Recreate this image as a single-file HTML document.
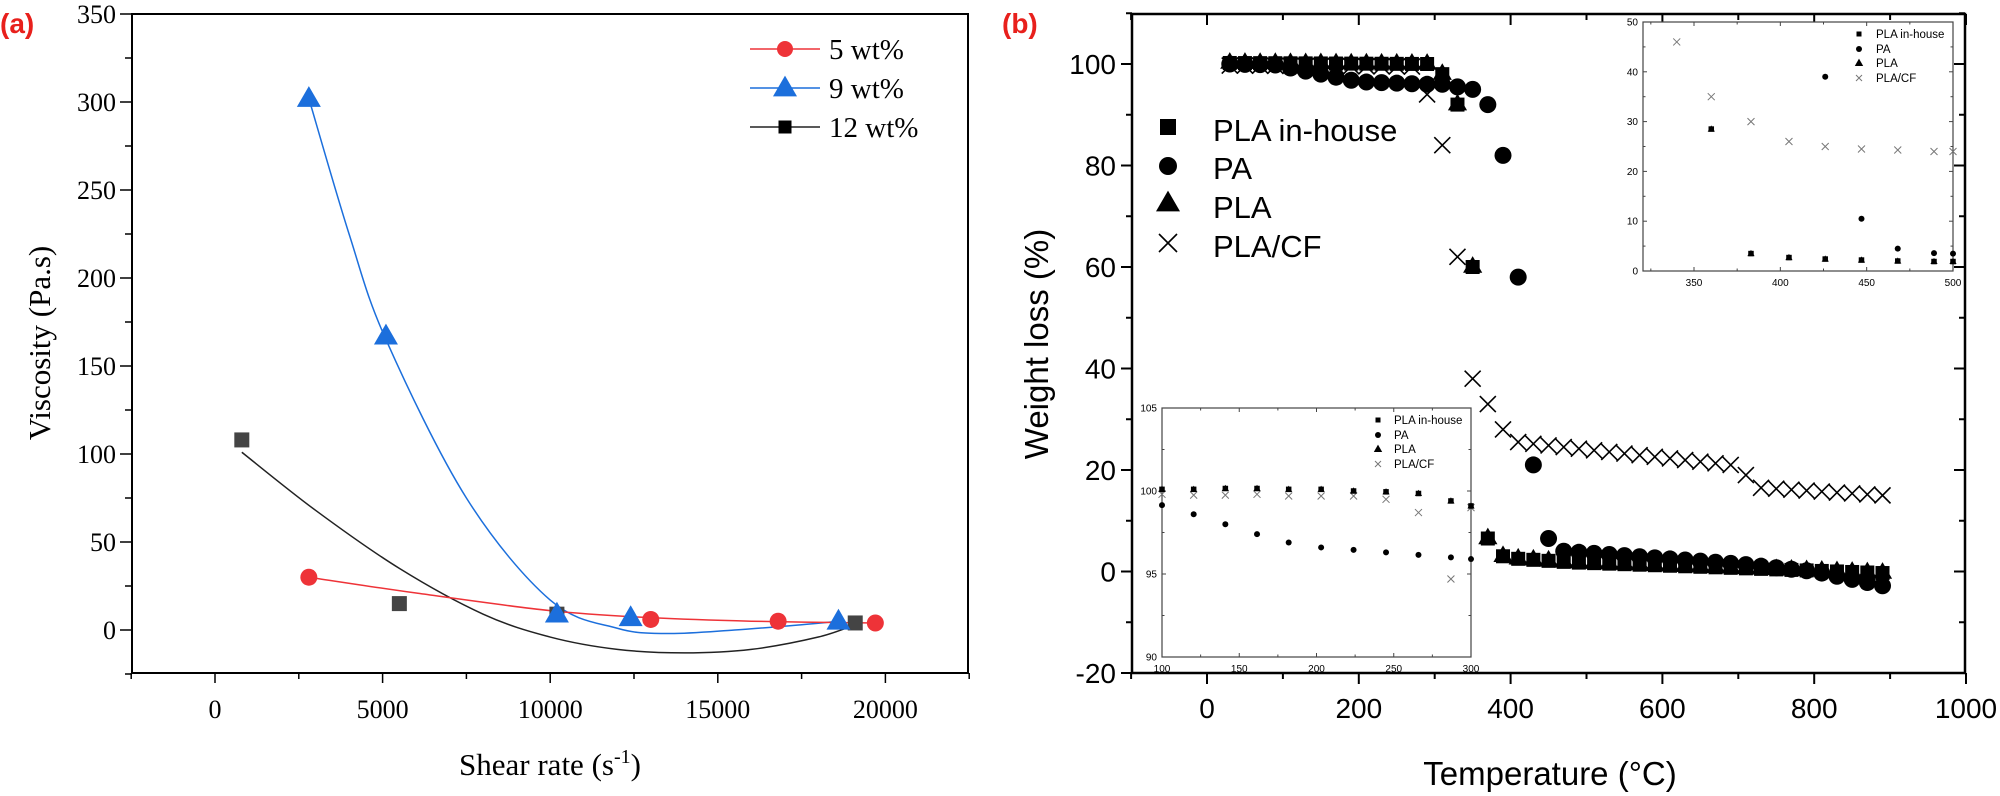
<!DOCTYPE html>
<html><head><meta charset="utf-8">
<style>
html,body{margin:0;padding:0;background:#fff;}
svg{display:block;}
</style></head>
<body>
<svg id="s" xmlns="http://www.w3.org/2000/svg" width="2000" height="796" viewBox="0 0 2000 796"></svg>
<script>
const S=document.getElementById('s');
let h='';
function add(x){h+=x;}
// ---------- Chart (a) ----------
const aL=132,aR=968,aT=14,aB=673;
const ax=v=>215+(v)*(167.6/5000);
const ay=v=>630-(v)*(616/350);
add(`<rect x="${aL}" y="${aT}" width="${aR-aL}" height="${aB-aT}" fill="none" stroke="#000" stroke-width="2"/>`);
for(let v=-25;v<=350;v+=25){const y=ay(v);const maj=v%50===0;add(`<line x1="${aL-(maj?12:7)}" y1="${y}" x2="${aL}" y2="${y}" stroke="#000" stroke-width="1.5"/>`);
 if(maj&&v>=0)add(`<text x="${aL-16}" y="${y+9}" font-family="Liberation Serif" font-size="26" text-anchor="end">${v}</text>`);}
for(let v=-2500;v<=22500;v+=2500){const x=ax(v);const maj=v%5000===0;add(`<line x1="${x}" y1="${aB}" x2="${x}" y2="${aB+(maj?10:6)}" stroke="#000" stroke-width="1.5"/>`);
 if(maj&&v>=0&&v<=20000)add(`<text x="${x}" y="${aB+45}" font-family="Liberation Serif" font-size="26" text-anchor="middle">${v}</text>`);}
add(`<text transform="translate(50,343) rotate(-90)" font-family="Liberation Serif" font-size="31" text-anchor="middle">Viscosity (Pa.s)</text>`);
add(`<text x="550" y="775" font-family="Liberation Serif" font-size="31" text-anchor="middle">Shear rate (s<tspan dy="-12" font-size="20">-1</tspan><tspan dy="12">)</tspan></text>`);
add(`<text x="0" y="33" font-family="Liberation Sans" font-weight="bold" font-size="28" fill="#e8201c">(a)</text>`);
function spline(pts){let d=`M${pts[0][0]},${pts[0][1]}`;for(let i=0;i<pts.length-1;i++){const p0=pts[Math.max(i-1,0)],p1=pts[i],p2=pts[i+1],p3=pts[Math.min(i+2,pts.length-1)];
 d+=` C${p1[0]+(p2[0]-p0[0])/6},${p1[1]+(p2[1]-p0[1])/6} ${p2[0]-(p3[0]-p1[0])/6},${p2[1]-(p3[1]-p1[1])/6} ${p2[0]},${p2[1]}`;}return d;}
const P=a=>a.map(p=>[ax(p[0]),ay(p[1])]);
const RED='#ee3338',BLUE='#1c6fdc',GR='#444';
add(`<path d="${spline(P([[2800,302],[4000,225],[5100,165],[7500,75],[10000,17],[12000,1],[13500,-2],[15500,0],[17500,3],[18600,5]]))}" fill="none" stroke="${BLUE}" stroke-width="1.5"/>`);
add(`<path d="${spline(P([[800,101],[3000,68],[5500,35],[8000,9],[10000,-4],[12000,-11],[14000,-13],[16000,-11],[18000,-4],[19100,3]]))}" fill="none" stroke="#222" stroke-width="1.5"/>`);
add(`<path d="${spline(P([[2800,30],[6000,21],[10000,11],[13000,7],[16000,5],[19700,4]]))}" fill="none" stroke="${RED}" stroke-width="1.5"/>`);
function tri(x,y,s,c){return `<polygon points="${x},${y-s*0.62} ${x-s*0.6},${y+s*0.42} ${x+s*0.6},${y+s*0.42}" fill="${c}"/>`;}
function sq(x,y,s,c){return `<rect x="${x-s/2}" y="${y-s/2}" width="${s}" height="${s}" fill="${c}"/>`;}
function ci(x,y,r,c){return `<circle cx="${x}" cy="${y}" r="${r}" fill="${c}"/>`;}
function cr(x,y,s,c,w){return `<path d="M${x-s/2},${y-s/2}L${x+s/2},${y+s/2}M${x+s/2},${y-s/2}L${x-s/2},${y+s/2}" stroke="${c}" stroke-width="${w}" fill="none"/>`;}
[[800,108],[5500,15],[10200,9],[19100,4]].forEach(p=>add(sq(ax(p[0]),ay(p[1]),15,GR)));
[[2800,302],[5100,167],[10200,9],[12400,7],[18600,5]].forEach(p=>add(tri(ax(p[0]),ay(p[1]),20,BLUE)));
[[2800,30],[13000,6],[16800,5],[19700,4]].forEach(p=>add(ci(ax(p[0]),ay(p[1]),8.5,RED)));
// legend a
[[49,RED,'5 wt%'],[88,BLUE,'9 wt%'],[127,'#222','12 wt%']].forEach((r,i)=>{
 add(`<line x1="750" y1="${r[0]}" x2="820" y2="${r[0]}" stroke="${r[1]}" stroke-width="1.5"/>`);
 if(i==0)add(ci(785,r[0],8,RED));if(i==1)add(tri(785,r[0],20,BLUE));if(i==2)add(sq(785,r[0],13,'#000'));
 add(`<text x="829" y="${r[0]+10}" font-family="Liberation Serif" font-size="29">${r[2]}</text>`);});
// ---------- Chart (b) ----------
const bL=1132,bR=1965,bT=14,bB=673;
const bx=v=>1207+v*0.759;
const by=v=>64-(v-100)*5.075;
add(`<rect x="${bL}" y="${bT}" width="${bR-bL}" height="${bB-bT}" fill="none" stroke="#000" stroke-width="2.5"/>`);
for(let v=-20;v<=110;v+=10){const y=by(v);const maj=v%20===0;const l=maj?11:6;
 add(`<line x1="${bL-l}" y1="${y}" x2="${bL}" y2="${y}" stroke="#000" stroke-width="2"/><line x1="${bR-l}" y1="${y}" x2="${bR}" y2="${y}" stroke="#000" stroke-width="2"/>`);
 if(maj&&v<=100)add(`<text x="${bL-16}" y="${y+10}" font-family="Liberation Sans" font-size="28" text-anchor="end">${v}</text>`);}
for(let v=-100;v<=1000;v+=100){const x=bx(v);const maj=v%200===0;const l=maj?11:6;
 add(`<line x1="${x}" y1="${bB}" x2="${x}" y2="${bB+l}" stroke="#000" stroke-width="2"/><line x1="${x}" y1="${bT}" x2="${x}" y2="${bT+l}" stroke="#000" stroke-width="2"/>`);
 if(maj&&v>=0)add(`<text x="${x}" y="${bB+45}" font-family="Liberation Sans" font-size="28" text-anchor="middle">${v}</text>`);}
add(`<text transform="translate(1048,344) rotate(-90)" font-family="Liberation Sans" font-size="33" text-anchor="middle">Weight loss (%)</text>`);
add(`<text x="1550" y="785" font-family="Liberation Sans" font-size="33" text-anchor="middle">Temperature (°C)</text>`);
add(`<text x="1002" y="33" font-family="Liberation Sans" font-weight="bold" font-size="28" fill="#e8201c">(b)</text>`);
// data b
function interp(pts,t){for(let i=0;i<pts.length-1;i++){if(t<=pts[i+1][0]){const f=(t-pts[i][0])/(pts[i+1][0]-pts[i][0]);return pts[i][1]+f*(pts[i+1][1]-pts[i][1]);}}return pts[pts.length-1][1];}
const Ts=[];for(let t=30;t<=890;t+=20)Ts.push(t);
const pla=[[30,100.2],[290,100],[310,98],[330,92],[350,60],[370,6.5],[390,3],[410,2.5],[480,1.8],[890,-0.3]];
const pa=[[30,100],[90,99.8],[200,96.5],[290,96],[310,96],[330,95.5],[350,95],[370,92],[390,82],[410,58],[430,21],[450,6.5],[470,4],[700,1.5],[800,0],[890,-2.8]];
const cf=[[30,99.7],[270,99.5],[290,94],[310,84],[330,62],[350,38],[370,33],[390,28],[410,25.5],[440,25],[690,21],[710,19],[730,16.5],[890,15]];
Ts.forEach(t=>{add(sq(bx(t),by(interp(pla,t)),14,'#000'));});
Ts.forEach(t=>{add(tri(bx(t),by(interp(pla,t))-1,16,'#000'));});
Ts.forEach(t=>{add(ci(bx(t),by(interp(pa,t)),8.5,'#000'));});
Ts.forEach(t=>{add(cr(bx(t),by(interp(cf,t)),16,'#000',1.6));});
// legend b
add(sq(1168,127,16,'#000'));add(ci(1168,166,9,'#000'));add(tri(1168,203,20,'#000'));add(cr(1168,243,18,'#000',1.6));
[[130,'PLA in-house'],[168,'PA'],[207,'PLA'],[246,'PLA/CF']].forEach(r=>add(`<text x="1213" y="${r[0]+11}" font-family="Liberation Sans" font-size="31">${r[1]}</text>`));
// ---------- Inset 1 ----------
{const L=1643,R=1953,T=22,B=271;const X=v=>1694+(v-350)*(259/150);const Y=v=>271-v*4.98;
 add(`<rect x="${L}" y="${T}" width="${R-L}" height="${B-T}" fill="#fff" stroke="#444" stroke-width="1.2"/>`);
 for(let v=0;v<=50;v+=5){const y=Y(v);const m=v%10===0;add(`<line x1="${L}" y1="${y}" x2="${L+(m?4:2.5)}" y2="${y}" stroke="#444"/><line x1="${R}" y1="${y}" x2="${R-(m?4:2.5)}" y2="${y}" stroke="#444"/>`);
  if(m)add(`<text x="${L-5}" y="${y+3.5}" font-family="Liberation Sans" font-size="10" text-anchor="end">${v}</text>`);}
 for(let v=325;v<=500;v+=25){const x=X(v);const m=v%50===0;add(`<line x1="${x}" y1="${B}" x2="${x}" y2="${B-(m?4:2.5)}" stroke="#444"/><line x1="${x}" y1="${T}" x2="${x}" y2="${T+(m?4:2.5)}" stroke="#444"/>`);
  if(m)add(`<text x="${x}" y="${B+15}" font-family="Liberation Sans" font-size="10" text-anchor="middle">${v}</text>`);}
 [[340,46],[360,35],[383,30],[405,26],[426,25],[447,24.5],[468,24.3],[489,24],[500,24]].forEach(p=>add(cr(X(p[0]),Y(p[1]),7,'#777',1)));
 [[426,39],[447,10.5],[468,4.5],[489,3.6],[500,3.5]].forEach(p=>add(ci(X(p[0]),Y(p[1]),3,'#000')));
 [[360,28.5],[383,3.5],[405,2.7],[426,2.4],[447,2.2],[468,2],[489,1.9],[500,1.9]].forEach(p=>{add(sq(X(p[0]),Y(p[1]),5.5,'#000'));add(tri(X(p[0]),Y(p[1]),6,'#000'));});
 add(sq(1859,34,5,'#000'));add(ci(1859,49,3,'#000'));add(tri(1859,63,7,'#000'));add(cr(1859,78,6,'#777',1));
 [[34,'PLA in-house'],[49,'PA'],[63,'PLA'],[78,'PLA/CF']].forEach(r=>add(`<text x="1876" y="${r[0]+4}" font-family="Liberation Sans" font-size="11.5">${r[1]}</text>`));}
// ---------- Inset 2 ----------
{const L=1162,R=1471,T=408,B=657;const X=v=>L+(v-100)*(309/200);const Y=v=>657-(v-90)*(249/15);
 add(`<rect x="${L}" y="${T}" width="${R-L}" height="${B-T}" fill="#fff" stroke="#444" stroke-width="1.2"/>`);
 for(let v=90;v<=105;v+=2.5){const y=Y(v);const m=v%5===0;add(`<line x1="${L}" y1="${y}" x2="${L+(m?4:2.5)}" y2="${y}" stroke="#444"/><line x1="${R}" y1="${y}" x2="${R-(m?4:2.5)}" y2="${y}" stroke="#444"/>`);
  if(m)add(`<text x="${L-5}" y="${y+3.5}" font-family="Liberation Sans" font-size="10" text-anchor="end">${v}</text>`);}
 for(let v=100;v<=300;v+=25){const x=X(v);const m=v%50===0;add(`<line x1="${x}" y1="${B}" x2="${x}" y2="${B-(m?4:2.5)}" stroke="#444"/><line x1="${x}" y1="${T}" x2="${x}" y2="${T+(m?4:2.5)}" stroke="#444"/>`);
  if(m)add(`<text x="${x}" y="${B+15}" font-family="Liberation Sans" font-size="10" text-anchor="middle">${v}</text>`);}
 const xs=[100,120.5,141,161.5,182,203,224,245,266,287,300];
 const sqv=[100.1,100.1,100.15,100.15,100.1,100.1,100,99.95,99.85,99.4,99.1];
 const crv=[99.8,99.75,99.75,99.8,99.7,99.7,99.7,99.5,98.7,94.7,99];
 const dv=[99.15,98.6,98,97.4,96.9,96.6,96.45,96.3,96.15,96,95.9];
 xs.forEach((x,i)=>{add(cr(X(x),Y(crv[i]),7,'#777',1));add(sq(X(x),Y(sqv[i]),5.5,'#000'));add(tri(X(x),Y(sqv[i]),6,'#000'));add(ci(X(x),Y(dv[i]),3,'#000'));});
 add(sq(1378,420,5,'#000'));add(ci(1378,435,3,'#000'));add(tri(1378,449,7,'#000'));add(cr(1378,464,6,'#777',1));
 [[420,'PLA in-house'],[435,'PA'],[449,'PLA'],[464,'PLA/CF']].forEach(r=>add(`<text x="1394" y="${r[0]+4}" font-family="Liberation Sans" font-size="11.5">${r[1]}</text>`));}
S.innerHTML=h;
</script>
</body></html>
